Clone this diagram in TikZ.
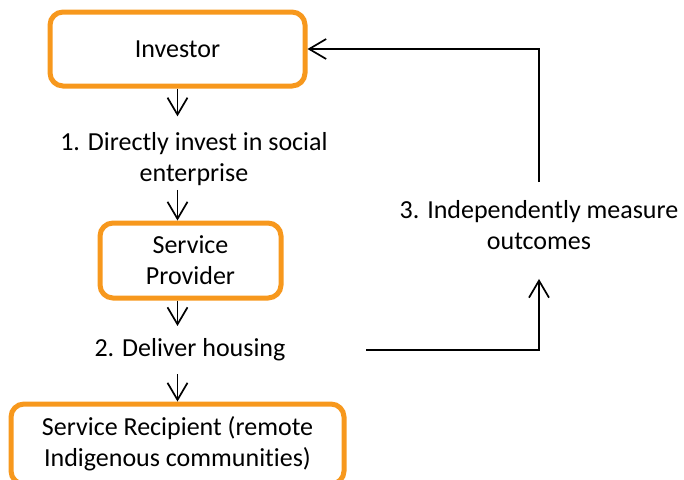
\documentclass[tikz,border=0pt]{standalone}
\usepackage{fontspec}
\setmainfont{Carlito}[Ligatures=NoCommon]
\usetikzlibrary{arrows.meta}
\definecolor{boxorange}{HTML}{F7981D}

\begin{document}
\begin{tikzpicture}[->,>={Straight Barb[length=17pt,width=20pt]},
    x=1pt, y=-1pt,
    line width=1.7pt,
    font=\fontsize{26pt}{31pt}\selectfont,
    party/.style={rectangle, draw=boxorange, line width=5pt,
                  rounded corners=13pt, align=center, inner sep=0pt},
    stage/.style={align=center, inner xsep=0pt}]

    \useasboundingbox (0,0) rectangle (684,479);

    \node[party,
          minimum width = 255pt,
          minimum height = 74pt] (Investor) at (177.5,49) {Investor};

    \node[stage,
          inner ysep = 3.8pt] (invest) at (194,158.6)
          {1. Directly invest in social\\enterprise};

    \node[party,
          minimum width = 181pt,
          minimum height = 75pt] (Provider) at (190.5,260.5) {Service\\Provider};

    \node[stage,
          inner ysep = 12pt] (housing) at (190,350.1) {2. Deliver housing};

    \node[party,
          minimum width = 333pt,
          minimum height = 80pt] (Recipient) at (177.5,444)
          {Service Recipient (remote\\Indigenous communities)};

    \node[stage,
          inner ysep = 18pt] (measure) at (539,225.5)
          {3. Independently measure\\outcomes};

    \coordinate (housingEnd) at (366,350);

    % main chain
    \draw[shorten >=11pt] (Investor) -- (Investor |- invest.north);
    \draw (Investor |- invest.south) -- (Investor |- Provider.north);
    \draw (Investor |- Provider.south) -- (Investor |- housing.north);
    \draw (Recipient |- housing.south) -- (Recipient.north);

    % feedback loop
    \draw[shorten >=10pt] (housingEnd) -| (measure.south);
    \draw (measure.north) |- (Investor.east);

\end{tikzpicture}
\end{document}
